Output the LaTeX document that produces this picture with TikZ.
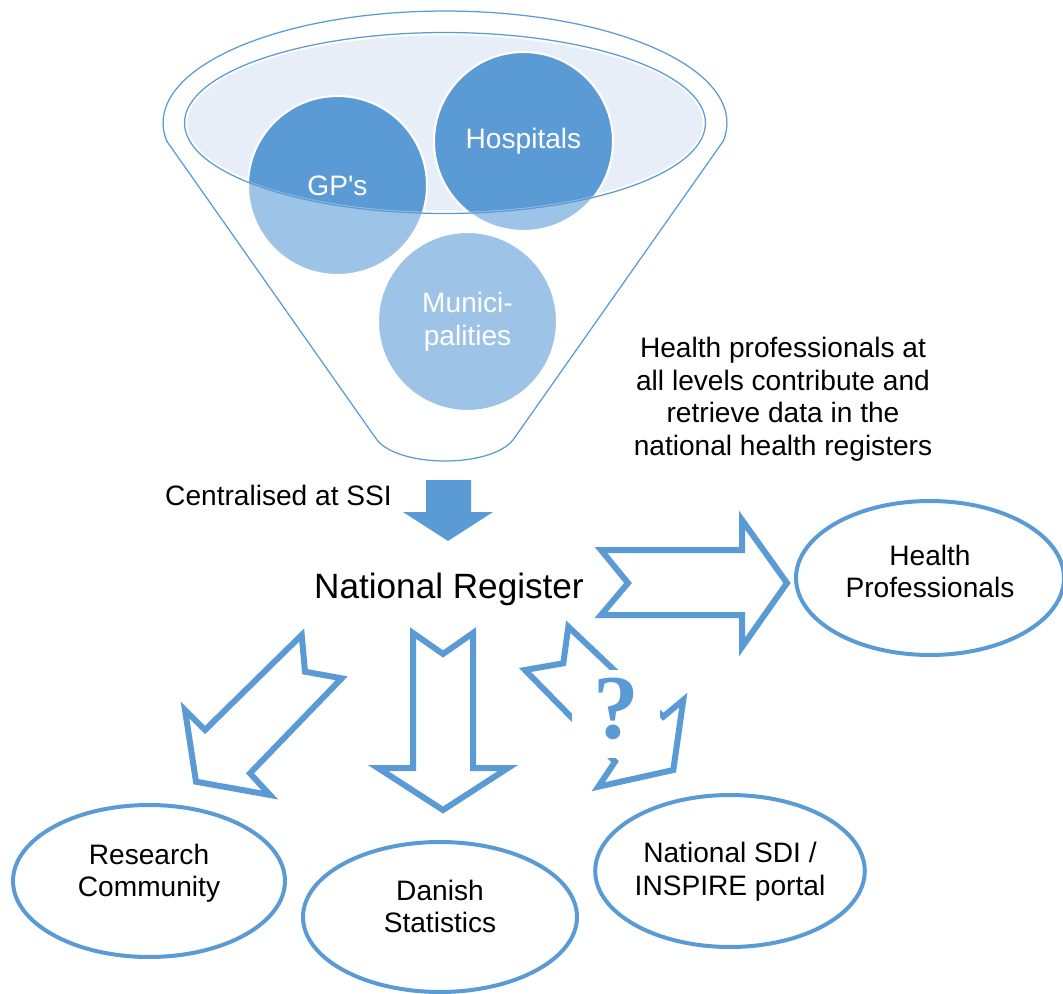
\documentclass[tikz,border=0pt]{standalone}
\usepackage{fontspec}
\setmainfont{Liberation Sans}
\newfontfamily\qmarkfont{Liberation Serif}
\usepackage{tikz}
\usetikzlibrary{shapes.geometric}
\definecolor{regblue}{HTML}{5B9BD5}
\definecolor{poolblue}{HTML}{9DC3E6}
\definecolor{paleblue}{HTML}{E7EEF8}

\begin{document}
\begin{tikzpicture}[
			x=0.02cm, y=-0.02cm,
			every node/.style={font=\fontsize{16}{18.5}\selectfont, align=center},
			pool/.style={circle, minimum size=3.58cm, inner sep=0pt, draw=white, line width=0.04cm},
			pool text/.style={text=white},
			user/.style={ellipse, draw=regblue, line width=0.08cm, inner sep=0pt, text depth=0.42cm},
			outline arrow/.style={draw=regblue, line width=0.12cm, line join=miter, miter limit=20},
			funnel/.style={draw=regblue, line width=0.025cm}
			]
			\useasboundingbox (0,0) rectangle (1063,994);
			
			% funnel
			\begin{scope}
				\clip (100,0) rectangle (800,141);
				\draw[funnel] (445,123) ellipse [x radius=5.64cm, y radius=2.24cm];
			\end{scope}
			\draw[funnel] (166.7,141) -- (377,440) .. controls (400,468) and (490,468) .. (513,440) -- (723.3,141);
			
			\node[ellipse, fill=paleblue, draw=white, line width=0.05cm, minimum width=10.36cm, minimum height=3.56cm, inner sep=0pt] (rim) at (445,123) {};
			
			% sources
			\node[pool, fill=poolblue] (gp) at (337.5,185.5) {};
			\node[pool, fill=poolblue] (hosp) at (523.5,141.5) {};
			\node[pool, fill=poolblue, pool text] (muni) at (467.5,321.5) {Munici-\\palities};
			\begin{scope}
				\clip (rim.center) ellipse [x radius=5.18cm, y radius=1.78cm];
				\node[pool, fill=regblue, pool text] at (gp) {GP\textquotesingle s};
				\node[pool, fill=regblue, pool text] at (hosp) {Hospitals};
			\end{scope}
			\draw[funnel] (rim.center) ellipse [x radius=5.21cm, y radius=1.81cm];
			
			\node[anchor=base] (ssi) at (278.5,505) {Centralised at SSI};
			\fill[regblue] (426,480) -- (471,480) -- (471,512) -- (493,512) -- (448,541) -- (403,512) -- (426,512) -- cycle;
			\node[anchor=base, font=\fontsize{20}{24}\selectfont] (reg) at (449,598) {National Register};
			\node (note) at (783,399) {Health professionals at\\all levels contribute and\\retrieve data in the\\national health registers};
			
			% outflows
			\draw[outline arrow] (601,550) -- (742,550) -- (742,520) -- (787,583) -- (742,647) -- (742,615) -- (601,615) -- (628,583) -- cycle;
			\draw[outline arrow] (413,633) -- (443,654) -- (473,633) -- (473,768) -- (508,768) -- (443,810) -- (378,768) -- (413,768) -- cycle;
			\draw[outline arrow] (301.7,635) -- (305,671.7) -- (341.7,678.3) -- (250,773.3) -- (270,795) -- (196,781.7) -- (185,710) -- (205,730) -- cycle;
			\draw[outline arrow] (568.3,626.7) -- (563.3,663.3) -- (525,670) -- (615,761.7) -- (598.3,786.7) -- (673.3,770) -- (683.3,700) -- (663.3,716.7) -- cycle;
			\node[fill=white, minimum size=1.76cm, inner sep=0pt, text=regblue, font=\qmarkfont\bfseries\fontsize{52}{52}\selectfont, text depth=0.24cm] (unsure) at (616,714) {?};
			
			% users
			\node[user, minimum width=5.36cm, minimum height=3.08cm, text depth=0.26cm] (hp) at (930,578) {Health\\Professionals};
			\node[user, minimum width=5.44cm, minimum height=3.04cm] (rc) at (149,881) {Research\\Community};
			\node[user, minimum width=5.48cm, minimum height=3cm] (ds) at (440,917) {Danish\\Statistics};
			\node[user, minimum width=5.28cm, minimum height=3.04cm, text depth=0.08cm] (sdi) at (730,871) {National SDI /\\INSPIRE portal};
		\end{tikzpicture}
\end{document}
